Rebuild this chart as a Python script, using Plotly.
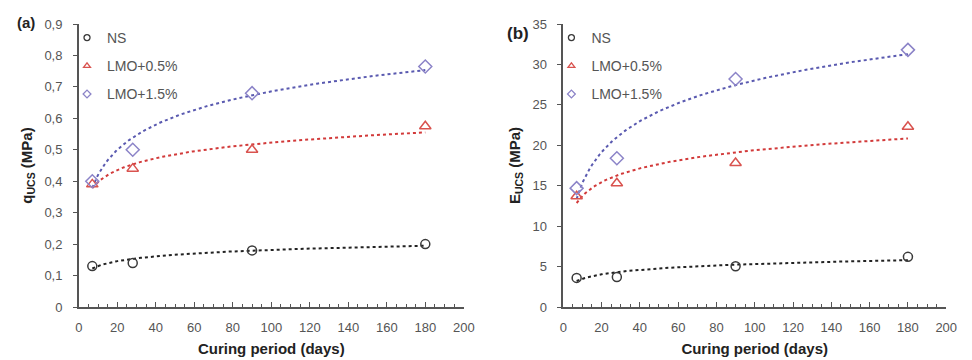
import numpy as np
import plotly.graph_objects as go

days = [7, 28, 90, 180]
series_names = ["NS", "LMO+0.5%", "LMO+1.5%"]
q_ns = [0.13, 0.14, 0.18, 0.20]
q_lmo05 = [0.39, 0.44, 0.50, 0.575]
q_lmo15 = [0.40, 0.50, 0.68, 0.765]
e_ns = [3.6, 3.7, 5.05, 6.2]
e_lmo05 = [13.7, 15.3, 17.8, 22.3]
e_lmo15 = [14.7, 18.4, 28.2, 31.8]

symbols = ["circle-open", "triangle-up-open", "diamond-open"]
mcolors = ["#3a3a3a", "#d9534f", "#8c84c8"]
lcolors = ["#222222", "#d23a3a", "#5a5ab0"]
msizes = [9, 10, 10]

FONT = "Liberation Sans, Arial, sans-serif"
fig = go.Figure()

def add_panel(vals_list, xa, ya, legend, tag):
    xs = np.array(days, dtype=float)
    xfit = np.linspace(min(days), max(days), 200)
    for i, vals in enumerate(vals_list):
        # logarithmic trendline fitted from the data
        b, a = np.polyfit(np.log(xs), np.array(vals), 1)
        fig.add_trace(go.Scatter(x=xfit, y=a + b * np.log(xfit), mode="lines",
                                 line=dict(color=lcolors[i], width=2, dash="dot"),
                                 showlegend=False, xaxis=xa, yaxis=ya, hoverinfo="skip"))
    for i, vals in enumerate(vals_list):
        fig.add_trace(go.Scatter(x=days, y=vals, mode="markers", name=series_names[i],
                                 showlegend=False,
                                 marker=dict(symbol=symbols[i], size=msizes[i], color=mcolors[i],
                                             line=dict(width=1.5, color=mcolors[i])),
                                 xaxis=xa, yaxis=ya))
        # small legend-only entry (legend markers are smaller than the data markers)
        fig.add_trace(go.Scatter(x=[None], y=[None], mode="markers", name=series_names[i],
                                 legendgroup=f"{tag}{i}",
                                 marker=dict(symbol=symbols[i], size=6, color=mcolors[i],
                                             line=dict(width=1.3, color=mcolors[i])),
                                 xaxis=xa, yaxis=ya, legend=legend))

add_panel([q_ns, q_lmo05, q_lmo15], "x", "y", "legend", "a")
add_panel([e_ns, e_lmo05, e_lmo15], "x2", "y2", "legend2", "b")

tickfont = dict(family=FONT, size=13, color="#555555")
titlefont = dict(family=FONT, size=15, color="#222222")

xcommon = dict(range=[0, 200], dtick=20, showgrid=False, zeroline=False, showline=True,
               linecolor="#555555", linewidth=1.5, ticks="inside", ticklen=5, tickcolor="#555555",
               minor=dict(dtick=5, ticks="inside", ticklen=3, tickcolor="#555555"),
               tickfont=tickfont, ticklabelstandoff=8,
               title=dict(text="<b>Curing period (days)</b>", font=titlefont, standoff=9))
ycommon = dict(showgrid=False, zeroline=False, showline=True, linecolor="#555555", linewidth=1.5,
               ticks="outside", ticklen=4, tickcolor="#555555", tickfont=tickfont,
               ticklabelstandoff=8)

legfont = dict(family=FONT, size=14, color="#555555")
fig.update_layout(
    width=972, height=360, plot_bgcolor="white", paper_bgcolor="white",
    margin=dict(l=0, r=0, t=24, b=53),
    separators=", ",
    xaxis=dict(domain=[76/972, 467/972], anchor="y", **xcommon),
    xaxis2=dict(domain=[568/972, 957/972], anchor="y2", **xcommon),
    yaxis=dict(domain=[0, 1], anchor="x", range=[0, 0.9], dtick=0.1,
               title=dict(text="<b>q<sub>UCS</sub> (MPa)</b>", font=titlefont, standoff=8), **ycommon),
    yaxis2=dict(domain=[0, 1], anchor="x2", range=[0, 35], dtick=5,
                title=dict(text="<b>E<sub>UCS</sub> (MPa)</b>", font=titlefont, standoff=8), **ycommon),
    legend=dict(x=64/972, y=1 + 2/283, xanchor="left", yanchor="top", bgcolor="rgba(0,0,0,0)",
                font=legfont, itemwidth=30, tracegroupgap=7, traceorder="grouped"),
    legend2=dict(x=556/972, y=1 + 2/283, xanchor="left", yanchor="top", bgcolor="rgba(0,0,0,0)",
                 font=legfont, itemwidth=30, tracegroupgap=7, traceorder="grouped"),
    annotations=[
        dict(text="<b>(a)</b>", x=11/972, y=1 + 1/283, xref="paper", yref="paper", showarrow=False,
             xanchor="left", yanchor="middle", font=dict(family=FONT, size=15, color="#222222")),
        dict(text="<b>(b)</b>", x=509/972, y=1 - 9/283, xref="paper", yref="paper", showarrow=False,
             xanchor="left", yanchor="middle", font=dict(family=FONT, size=17, color="#222222")),
    ],
)

fig.write_html("out.html")
